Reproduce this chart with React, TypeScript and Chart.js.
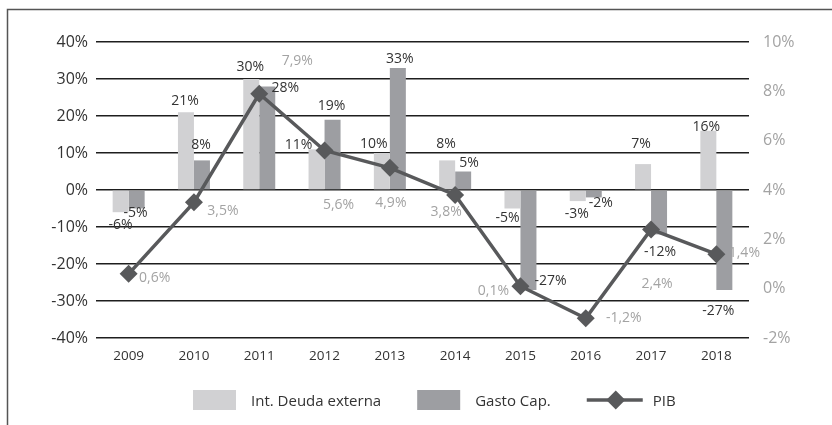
import React, { useEffect, useRef } from "react";
import { Chart, registerables } from "chart.js";

Chart.register(...registerables);

const years = ["2009", "2010", "2011", "2012", "2013", "2014", "2015", "2016", "2017", "2018"];
const intDeuda = [-6, 21, 30, 11, 10, 8, -5, -3, 7, 16];
const gastoCap = [-5, 8, 28, 19, 33, 5, -27, -2, -12, -27];
const pib = [0.6, 3.5, 7.9, 5.6, 4.9, 3.8, 0.1, -1.2, 2.4, 1.4];

const leftMin = -40, leftMax = 40, leftStep = 10;
const rightMin = -2, rightMax = 10, rightStep = 2;

// label placement offsets (style only): [dx, dy] from bar end / point
const intOff = [[0, 13], [-1, -11], [-1, -12], [-18, -4], [-8, -9], [-1, -16], [-5, 10], [-1, 13], [-2, -20], [-2, -4]];
const gastoOff = [[-1, 5], [-1, -15], [18, 2], [-1, -14], [2, -9], [6, -8], [22, -9], [7, 6], [1, 18], [-6, 21]];
const pibOff = [[26, 4], [29, 9], [38, -33], [14, 54], [1, 35], [-9, 17], [-27, 5], [38, 0], [6, 55], [28, -1]];

const FONT = "'Open Sans', 'Noto Sans', sans-serif";
const LIGHT = "#d1d1d3";
const DARK = "#9d9ea2";
const LINE = "#58595b";
const TXT = "#333333";
const GRAYTXT = "#a3a3a3";

const fmtPib = (v: number) => v.toFixed(1).replace(".", ",") + "%";

const decorPlugin = {
  id: "decor",
  beforeDraw(chart: any) {
    const ctx = chart.ctx;
    ctx.save();
    ctx.fillStyle = "#ffffff";
    ctx.fillRect(0, 0, chart.width, chart.height);
    ctx.strokeStyle = "#555555";
    ctx.lineWidth = 1.5;
    ctx.beginPath();
    ctx.moveTo(7.5, chart.height + 5);
    ctx.lineTo(7.5, 9.5);
    ctx.lineTo(chart.width + 5, 9.5);
    ctx.stroke();
    ctx.restore();
  },
  afterDatasetsDraw(chart: any) {
    const ctx = chart.ctx;
    ctx.save();
    ctx.font = `14px ${FONT}`;
    ctx.textAlign = "center";
    ctx.textBaseline = "middle";
    const drawBars = (dsIndex: number, vals: number[], off: number[][]) => {
      const meta = chart.getDatasetMeta(dsIndex);
      meta.data.forEach((el: any, i: number) => {
        const v = vals[i];
        ctx.fillStyle = TXT;
        ctx.fillText(`${v}%`, el.x + off[i][0], el.y + off[i][1]);
      });
    };
    drawBars(1, intDeuda, intOff);
    drawBars(2, gastoCap, gastoOff);
    const pm = chart.getDatasetMeta(0);
    pm.data.forEach((el: any, i: number) => {
      ctx.fillStyle = GRAYTXT;
      ctx.fillText(fmtPib(pib[i]), el.x + pibOff[i][0], el.y + pibOff[i][1]);
    });

    // legend
    const ly = 400;
    ctx.font = `15px ${FONT}`;
    ctx.textAlign = "left";
    let x = 193;
    const items = [
      { type: "box", color: LIGHT, text: "Int. Deuda externa" },
      { type: "box", color: DARK, text: "Gasto Cap." },
      { type: "line", color: LINE, text: "PIB" },
    ];
    items.forEach((it) => {
      if (it.type === "box") {
        ctx.fillStyle = it.color;
        ctx.fillRect(x, ly - 10, 43, 20);
        x += 43 + 15;
      } else {
        ctx.strokeStyle = it.color;
        ctx.lineWidth = 3.5;
        ctx.beginPath();
        ctx.moveTo(x, ly);
        ctx.lineTo(x + 56, ly);
        ctx.stroke();
        ctx.fillStyle = it.color;
        const cx = x + 29, r = 9.5;
        ctx.beginPath();
        ctx.moveTo(cx, ly - r);
        ctx.lineTo(cx + r, ly);
        ctx.lineTo(cx, ly + r);
        ctx.lineTo(cx - r, ly);
        ctx.closePath();
        ctx.fill();
        x += 56 + 10;
      }
      ctx.fillStyle = TXT;
      ctx.fillText(it.text, x, ly + 2);
      x += ctx.measureText(it.text).width + 36;
    });
    ctx.restore();
  },
};

export default function App() {
  const ref = useRef<HTMLCanvasElement | null>(null);
  useEffect(() => {
    if (!ref.current) return;
    const chart = new Chart(ref.current, {
      type: "bar",
      data: {
        labels: years,
        datasets: [
          {
            type: "line",
            label: "PIB",
            data: pib,
            yAxisID: "y1",
            borderColor: LINE,
            backgroundColor: LINE,
            borderWidth: 3.5,
            pointStyle: "rectRot",
            pointRadius: 9,
            pointBackgroundColor: LINE,
            pointBorderWidth: 0,
            tension: 0,
            order: 0,
          } as any,
          {
            label: "Int. Deuda externa",
            data: intDeuda,
            yAxisID: "y",
            backgroundColor: LIGHT,
            borderWidth: 0,
            categoryPercentage: 0.49,
            barPercentage: 1,
            order: 1,
          },
          {
            label: "Gasto Cap.",
            data: gastoCap,
            yAxisID: "y",
            backgroundColor: DARK,
            borderWidth: 0,
            categoryPercentage: 0.49,
            barPercentage: 1,
            order: 2,
          },
        ],
      },
      options: {
        responsive: false,
        animation: false,
        layout: { padding: { left: 0, right: 0, top: 42, bottom: 57 } },
        plugins: { legend: { display: false }, tooltip: { enabled: false } },
        scales: {
          x: {
            grid: { display: false, drawTicks: false },
            border: { display: false },
            ticks: { color: TXT, font: { family: FONT, size: 13.5 }, padding: 10, maxRotation: 0 },
            afterFit: (s: any) => { s.height = 30; },
          },
          y: {
            position: "left",
            min: leftMin,
            max: leftMax,
            ticks: {
              stepSize: leftStep,
              color: TXT,
              font: { family: FONT, size: 16 },
              padding: 8,
              callback: (v: any) => `${v}%`,
            },
            grid: { color: "#1e1e1e", lineWidth: 1.4, drawTicks: false },
            border: { display: false },
            afterFit: (s: any) => { s.width = 96; },
          },
          y1: {
            position: "right",
            min: rightMin,
            max: rightMax,
            ticks: {
              stepSize: rightStep,
              color: GRAYTXT,
              font: { family: FONT, size: 16 },
              padding: 14,
              callback: (v: any) => `${v}%`,
            },
            grid: { display: false, drawTicks: false },
            border: { display: false },
            afterFit: (s: any) => { s.width = 83; },
          },
        },
      },
      plugins: [decorPlugin],
    });
    return () => chart.destroy();
  }, []);
  return (
    <div style={{ position: "fixed", left: 0, top: 0, width: 832, height: 425 }}>
      <canvas ref={ref} width={832} height={425} style={{ display: "block" }} />
    </div>
  );
}
